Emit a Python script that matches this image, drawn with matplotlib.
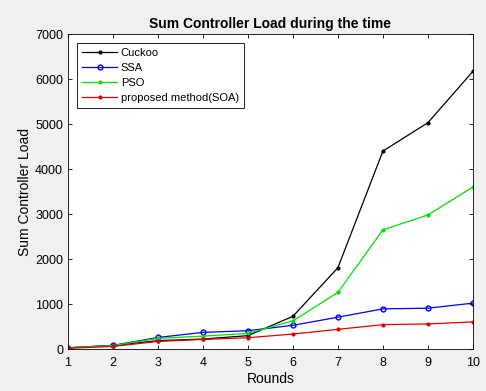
import matplotlib
matplotlib.use("Agg")
import matplotlib.pyplot as plt

plt.rcParams['font.family'] = ['Liberation Sans', 'DejaVu Sans']

# data
rounds = [1, 2, 3, 4, 5, 6, 7, 8, 9, 10]
cuckoo = [30, 80, 190, 225, 300, 730, 1810, 4400, 5030, 6170]
ssa = [30, 85, 260, 373, 410, 530, 710, 895, 910, 1022]
pso = [30, 80, 240, 290, 350, 630, 1260, 2650, 2980, 3600]
soa = [20, 60, 172, 216, 254, 336, 440, 545, 560, 605]

fig = plt.figure(figsize=(4.86, 3.91), dpi=100, facecolor='#f0f0f0')
ax = fig.add_axes([0.140, 0.107, 0.833, 0.806])

ax.plot(rounds, cuckoo, color='black', marker='.', markersize=4, linewidth=0.9, label='Cuckoo')
ax.plot(rounds, ssa, color='#0000ff', marker='o', markersize=3.5, markerfacecolor='none',
        linewidth=0.9, label='SSA')
ax.plot(rounds, pso, color='#00e000', marker='.', markersize=4, linewidth=0.9, label='PSO')
ax.plot(rounds, soa, color='#e00000', marker='.', markersize=4, linewidth=0.9,
        label='proposed method(SOA)')

ax.set_xlim(1, 10)
ax.set_ylim(0, 7000)
ax.set_xticks(rounds)
ax.set_yticks(range(0, 7001, 1000))
ax.tick_params(direction='in', top=True, right=True, labelsize=9, length=3, width=0.6)
ax.tick_params(axis='x', pad=6)
for s in ax.spines.values():
    s.set_linewidth(0.6)

ax.set_title('Sum Controller Load during the time', fontsize=10, fontweight='bold', pad=4)
ax.set_xlabel('Rounds', fontsize=10, labelpad=2)
ax.set_ylabel('Sum Controller Load', fontsize=10, labelpad=2)

leg = ax.legend(loc='upper left', fontsize=8, fancybox=False, framealpha=1,
                edgecolor='black', borderpad=0.45, handlelength=3.2, handletextpad=0.3,
                labelspacing=0.45, borderaxespad=0.8)
leg.get_frame().set_linewidth(0.6)

fig.savefig('out.png', dpi=100, facecolor=fig.get_facecolor())
